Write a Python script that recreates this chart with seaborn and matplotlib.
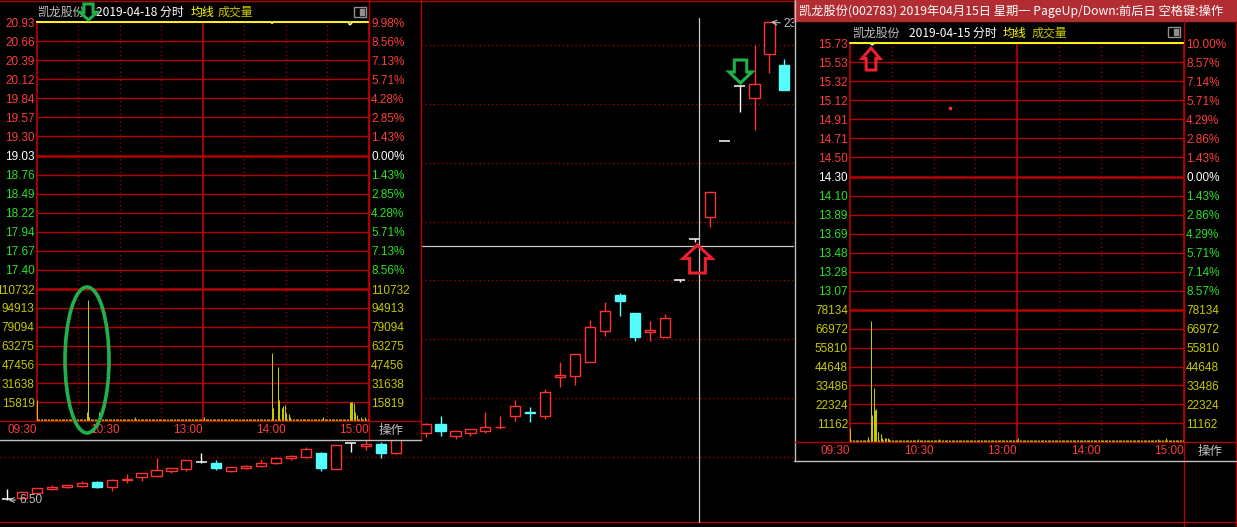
import numpy as np
import pandas as pd
import matplotlib.pyplot as plt
import matplotlib.transforms as mtransforms
from matplotlib.lines import Line2D
from matplotlib.patches import Polygon, Ellipse, Rectangle
import seaborn as sns

sns.set_theme(style='dark', rc={'figure.facecolor': 'black', 'axes.facecolor': 'black',
                                'savefig.facecolor': 'black', 'axes.unicode_minus': False})
plt.rcParams['font.family'] = ['Noto Sans CJK SC', 'DejaVu Sans']

W, H = 1237, 527

RED = '#ff3232'
TXT_RED = '#ff3c3c'
GRID = '#b40000'
GREEN = '#2ae02a'
CYAN = '#54fcfc'
YEL = '#ffff00'
VOLC = '#c8c800'
GREY = '#c0c0c0'
TITLE_BG = '#b22d32'
NUM = 'Liberation Sans'

#- 日K线 凯龙股份(002783)
k_open = [6.53, 6.57, 6.74, 6.90, 6.95, 6.99, 7.13, 6.95, 7.21, 7.30,
          7.34, 7.51, 7.58, 7.82, 7.79, 7.51, 7.62, 7.69, 7.79, 7.96,
          8.00, 8.14, 7.58, 8.49, 8.38, 8.45, 8.14, 8.73, 8.84, 9.15,
          8.73, 8.84, 8.91, 9.03, 9.43, 9.58, 9.43, 10.79, 10.82, 11.31,
          12.39, 13.65, 13.02, 12.36, 12.18, 14.17, 15.60, 16.36, 19.01, 20.93,
          20.51, 22.05, 21.66]
k_high = [6.88, 6.81, 6.92, 7.02, 7.02, 7.16, 7.16, 7.23, 7.41, 7.44,
          7.96, 7.62, 7.89, 8.14, 7.89, 7.65, 7.72, 7.93, 8.00, 8.07,
          8.35, 8.17, 8.42, 8.49, 8.59, 8.52, 8.77, 9.01, 9.18, 9.43,
          8.91, 8.97, 9.57, 9.43, 9.99, 9.74, 10.37, 11.31, 11.59, 12.77,
          13.40, 13.72, 13.02, 12.74, 12.98, 14.17, 15.60, 17.24, 19.01, 20.93,
          22.36, 23.16, 21.87]
k_low = [6.50, 6.53, 6.71, 6.85, 6.92, 6.95, 6.92, 6.81, 7.09, 7.16,
         7.30, 7.44, 7.51, 7.79, 7.55, 7.48, 7.58, 7.65, 7.75, 7.89,
         7.96, 7.51, 7.58, 8.17, 8.24, 7.96, 8.10, 8.66, 8.70, 8.73,
         8.63, 8.73, 8.84, 8.97, 9.25, 9.22, 9.32, 10.44, 10.51, 11.31,
         12.22, 12.91, 12.04, 12.04, 12.18, 14.10, 15.49, 16.02, 19.01, 20.02,
         19.40, 21.38, 20.79]
k_close = [6.53, 6.78, 6.92, 6.94, 7.02, 7.09, 6.95, 7.20, 7.25, 7.44,
           7.55, 7.62, 7.89, 7.82, 7.62, 7.65, 7.69, 7.79, 7.96, 8.03,
           8.28, 7.62, 8.42, 8.49, 8.45, 8.14, 8.66, 8.94, 9.15, 8.91,
           8.91, 8.97, 9.04, 9.06, 9.78, 9.55, 10.26, 10.86, 11.59, 12.53,
           13.09, 13.44, 12.18, 12.43, 12.84, 14.17, 15.60, 17.24, 19.01, 20.93,
           21.00, 23.16, 20.79]
k_low_label = '6.50'
k_high_label = '23.02'

time_ticks = [0, 60, 120, 180, 240]
time_labels = ['09:30', '10:30', '13:00', '14:00', '15:00']

#- 2019-04-18 分时
d18_date = '2019-04-18 分时'
d18_prev, d18_top = 19.03, 20.93
d18_price_labels = ['20.93', '20.66', '20.39', '20.12', '19.84', '19.57', '19.30',
                    '19.03', '18.76', '18.49', '18.22', '17.94', '17.67', '17.40']
d18_pct_labels = ['9.98%', '8.56%', '7.13%', '5.71%', '4.28%', '2.85%', '1.43%',
                  '0.00%', '1.43%', '2.85%', '4.28%', '5.71%', '7.13%', '8.56%']
d18_vol_max = 110732
d18_vol_labels = ['110732', '94913', '79094', '63275', '47456', '31638', '15819']
d18_price = 20.93
d18_avg = 20.93
d18_dip_min = [170, 226, 227]
d18_dip_price = [20.91, 20.89, 20.90]
d18_vol_base = 1600
d18_vol_min = [0, 36, 37, 38, 45, 71, 121, 170, 171, 174, 175, 177, 178, 179, 180,
               182, 183, 184, 207, 226, 227, 228, 229, 230, 231, 234, 237, 240]
d18_vol = [17600, 7500, 101500, 3600, 7300, 3400, 3400, 57300, 10900, 45600, 17600,
           10600, 12800, 13400, 6700, 5900, 3600, 2000, 3400, 15700, 15700, 15700,
           14800, 7300, 5000, 3400, 3000, 16000]

#- 2019-04-15 分时
d15_bar = '凯龙股份(002783) 2019年04月15日 星期一 PageUp/Down:前后日 空格键:操作'
d15_date = '2019-04-15 分时'
d15_prev, d15_top = 14.30, 15.73
d15_price_labels = ['15.73', '15.53', '15.32', '15.12', '14.91', '14.71', '14.50',
                    '14.30', '14.10', '13.89', '13.69', '13.48', '13.28', '13.07']
d15_pct_labels = ['10.00%', '8.57%', '7.14%', '5.71%', '4.29%', '2.86%', '1.43%',
                  '0.00%', '1.43%', '2.86%', '4.29%', '5.71%', '7.14%', '8.57%']
d15_vol_max = 78134
d15_vol_labels = ['78134', '66972', '55810', '44648', '33486', '22324', '11162']
d15_price = 15.73
d15_avg = 15.73
d15_dip_min = [15, 16, 17]
d15_dip_price = [15.72, 15.71, 15.72]
d15_dot_min, d15_dot_price = 72, 15.03
d15_vol_base = 1100
d15_vol_min = [0, 13, 15, 16, 17, 18, 19, 20, 22, 23, 25, 26, 27, 28, 31, 49, 64, 121, 221, 227]
d15_vol = [8300, 2800, 71600, 16000, 32000, 18900, 19500, 5700, 4700, 2400, 2400, 2400,
           2400, 1800, 1200, 2000, 1600, 2400, 1800, 2200]

fig = plt.figure(figsize=(W / 100, H / 100), dpi=100)
pix = mtransforms.Affine2D().scale(1 / W, -1 / H).translate(0, 1) + fig.transFigure


def px_axes(x0, y0, x1, y1, z):
    a = fig.add_axes([x0 / W, 1 - y1 / H, (x1 - x0) / W, (y1 - y0) / H])
    a.set_zorder(z)
    a.set_facecolor('black')
    a.set_xticks([])
    a.set_yticks([])
    for s in a.spines.values():
        s.set_visible(False)
    return a


def seg(x0, y0, x1, y1, color=GRID, lw=1.0, z=6, ax=None):
    l = Line2D([x0, x1], [y0, y1], transform=pix, color=color, lw=lw, zorder=z)
    if ax is None:
        fig.add_artist(l)
    else:
        l.set_clip_on(False)
        ax.add_line(l)


def put(x, y, s, color, size=8.6, ha='left', family=None):
    kw = {'family': family} if family else {}
    fig.text(x, y, s, transform=pix, color=color, fontsize=size, ha=ha, va='center', zorder=7, **kw)


def arrow(x0, y0, w, h, up, color):
    cx, sw, hh = x0 + w / 2, w * 0.27, h * 0.48
    if up:
        pts = [(cx, y0), (x0 + w, y0 + hh), (cx + sw, y0 + hh), (cx + sw, y0 + h),
               (cx - sw, y0 + h), (cx - sw, y0 + hh), (x0, y0 + hh)]
    else:
        pts = [(cx, y0 + h), (x0 + w, y0 + h - hh), (cx + sw, y0 + h - hh), (cx + sw, y0),
               (cx - sw, y0), (cx - sw, y0 + h - hh), (x0, y0 + h - hh)]
    fig.add_artist(Polygon(pts, closed=True, fill=False, edgecolor=color, lw=2.2,
                           joinstyle='miter', transform=pix, zorder=8))


#- 日K线 (背景)
ax_main = px_axes(0, 0, W, H, 0)
k = pd.DataFrame({'open': k_open, 'high': k_high, 'low': k_low, 'close': k_close})
for i, r in k.iterrows():
    if r['close'] > r['open']:
        col = RED
    elif r['close'] < r['open']:
        col = CYAN
    else:
        col = 'white'
    ax_main.vlines(i, r['low'], r['high'], color=col, lw=1.0, zorder=2)
    if r['close'] == r['open']:
        ax_main.hlines(r['open'], i - 0.36, i + 0.36, color=col, lw=1.1, zorder=3)
    else:
        ax_main.bar(i, abs(r['close'] - r['open']), bottom=min(r['open'], r['close']), width=0.68,
                    facecolor='black' if col == RED else col, edgecolor=col, lw=1.0, zorder=3)
ax_main.set_xlim(-7 / 14.95, (W - 7) / 14.95)
ax_main.set_ylim(5.56, 23.93)
for p in [8.00, 10.06, 12.11, 14.17, 16.19, 18.25, 20.30, 22.36]:
    ax_main.axhline(p, xmax=1183 / W, color=GRID, lw=1, ls=(0, (0.8, 2.2)), zorder=1)
ax_main.annotate(k_low_label, xy=(0, min(k_low)), xytext=(12, 0), textcoords='offset pixels',
                 color=GREY, fontsize=8.5, family=NUM, va='center',
                 arrowprops=dict(arrowstyle='->', color=GREY, lw=0.8, shrinkA=0, shrinkB=1))
ax_main.annotate(k_high_label, xy=(51, max(k_high)), xytext=(14, -2), textcoords='offset pixels',
                 color=GREY, fontsize=8.5, family=NUM, va='center',
                 arrowprops=dict(arrowstyle='->', color=GREY, lw=0.8, shrinkA=0, shrinkB=1))
seg(0, 522, W, 522, ax=ax_main)
seg(1183.5, 0, 1183.5, H, ax=ax_main)
seg(1235.5, 0, 1235.5, H, ax=ax_main)
seg(698.5, 18, 698.5, 522, color='#c8c8c8', lw=0.9, ax=ax_main)
seg(420, 245.5, 794, 245.5, color='#c8c8c8', lw=0.9, ax=ax_main)


def minute_panel(x0, x1, yt, ym, yb, prev, top, p_labels, pct_labels, vmax, v_labels, price, avg, vol):
    step = (top - prev) / 7
    ticks = [top - i * step for i in range(14)]
    colors = [TXT_RED] * 7 + ['white'] + [GREEN] * 6
    axp = px_axes(x0, yt, x1, ym, 2)
    axp.set_xlim(0, 240)
    axp.set_ylim(prev - 7 * step, top)
    axp2 = axp.twinx()
    axp2.set_zorder(2)
    axp2.set_ylim(prev - 7 * step, top)
    for a, labels in ((axp, p_labels), (axp2, pct_labels)):
        a.set_yticks(ticks)
        a.set_yticklabels(labels)
        a.tick_params(axis='y', length=0, pad=1.5, labelsize=8.5, labelfontfamily=NUM)
        for t, c in zip(a.get_yticklabels(), colors):
            t.set_color(c)
        for s in a.spines.values():
            s.set_visible(False)
    for i, t in enumerate(ticks):
        axp.axhline(t, color=GRID, lw=1.8 if i == 7 else 1.0, zorder=0.8)

    axv = px_axes(x0, ym, x1, yb, 2)
    axv.set_xlim(0, 240)
    axv.set_ylim(0, vmax)
    vticks = [vmax * (7 - i) / 7 for i in range(7)]
    axv2 = axv.twinx()
    axv2.set_zorder(2)
    axv2.set_ylim(0, vmax)
    for a in (axv, axv2):
        a.set_yticks(vticks)
        a.set_yticklabels(v_labels)
        a.tick_params(axis='y', length=0, pad=1.5, labelsize=8.5, labelcolor=VOLC, labelfontfamily=NUM)
        for s in a.spines.values():
            s.set_visible(False)
    for i, t in enumerate(vticks):
        axv.axhline(t, color=GRID, lw=1.8 if i == 0 else 1.0, zorder=0.8, clip_on=False)

    for a in (axp, axv):
        for m in (30, 60, 90, 150, 180, 210):
            a.axvline(m, color=GRID, lw=1, ls=(0, (0.8, 2.2)), zorder=0.8)
        a.axvline(120, color=GRID, lw=1.3, zorder=0.8)
        a.axvline(0, color=GRID, lw=1.3, zorder=0.8, clip_on=False)
        a.axvline(240, color=GRID, lw=1.3, zorder=0.8, clip_on=False)

    sns.lineplot(x=price.index, y=price.values, ax=axp, color='white', lw=1.0, clip_on=False, legend=False)
    sns.lineplot(x=avg.index, y=avg.values, ax=axp, color=YEL, lw=1.2, clip_on=False, legend=False)
    axv.vlines(vol.index, 0, vol.values, color=VOLC, lw=0.75, zorder=2)

    axv.set_xticks(time_ticks)
    axv.set_xticklabels(time_labels)
    axv.tick_params(axis='x', length=0, pad=2.5, labelsize=8.5, labelcolor=TXT_RED, labelfontfamily=NUM)
    for t in axv.get_xticklabels():
        t.set_ha('right')
    return axp, axv


#- 左侧 2019-04-18 分时窗口
px_axes(0, 1.5, 421, 440, 1)
p18 = pd.Series(d18_price, index=range(241), dtype=float)
p18.loc[d18_dip_min] = d18_dip_price
a18 = pd.Series(d18_avg, index=range(241), dtype=float)
v18 = pd.Series(d18_vol_base, index=range(241))
v18.loc[d18_vol_min] = d18_vol
minute_panel(36.7, 369, 22, 289, 421, d18_prev, d18_top, d18_price_labels, d18_pct_labels,
             d18_vol_max, d18_vol_labels, p18, a18, v18)
seg(0, 0.5, W, 0.5)
seg(369, 0, 369, 439)
seg(420.5, 0, 420.5, 439)
seg(0, 421, 420, 421)
seg(0, 439.5, 421, 439.5, color=GREY)
put(37, 12.5, '凯龙股份', GREY)
put(96.5, 12.5, d18_date, 'white')
put(190.5, 12.5, '均线', YEL)
put(218, 12.5, '成交量', VOLC)
put(391, 430, '操作', GREY, size=9, ha='center')
fig.add_artist(Rectangle((354, 7), 12, 10, fill=False, edgecolor='#909090', lw=1, transform=pix, zorder=7))
fig.add_artist(Rectangle((360, 9), 4, 6, color='#909090', transform=pix, zorder=7))

#- 右侧 2019-04-15 分时窗口
px_axes(794, 0, W, 461, 1)
p15 = pd.Series(d15_price, index=range(241), dtype=float)
p15.loc[d15_dip_min] = d15_dip_price
a15 = pd.Series(d15_avg, index=range(241), dtype=float)
v15 = pd.Series(d15_vol_base, index=range(241))
v15.loc[d15_vol_min] = d15_vol
axp15, axv15 = minute_panel(850, 1184, 43, 310, 442, d15_prev, d15_top, d15_price_labels, d15_pct_labels,
                            d15_vol_max, d15_vol_labels, p15, a15, v15)
axp15.scatter([d15_dot_min], [d15_dot_price], s=7, color=RED, zorder=5, linewidths=0)
fig.add_artist(Rectangle((794, 0), W - 794, 21, color=TITLE_BG, transform=pix, zorder=6))
seg(794.5, 0, 794.5, 460.5, color=GREY)
seg(794, 460.5, W, 460.5, color=GREY)
seg(1184, 21, 1184, 460)
seg(1235.5, 21, 1235.5, 460)
seg(794, 442, W, 442)
put(799, 11, d15_bar, 'white', size=8.8)
put(852, 33, '凯龙股份', GREY)
put(909, 33, d15_date, 'white')
put(1003, 33, '均线', YEL)
put(1032, 33, '成交量', VOLC)
put(1210, 451, '操作', GREY, size=9, ha='center')
fig.add_artist(Rectangle((1168, 27), 12, 10, fill=False, edgecolor='#909090', lw=1, transform=pix, zorder=7))
fig.add_artist(Rectangle((1174, 29), 4, 6, color='#909090', transform=pix, zorder=7))

#- 标注
arrow(80, 4, 17, 16, False, '#22b04a')
arrow(729, 60, 23, 23, False, '#22b04a')
arrow(683, 245, 29, 28, True, '#ee2030')
arrow(862, 48, 18, 22, True, '#ee2030')
fig.add_artist(Ellipse((87, 360), 44, 146, fill=False, edgecolor='#22b04a', lw=2.6, transform=pix, zorder=8))

fig.savefig('out.png', dpi=100, facecolor='black')
